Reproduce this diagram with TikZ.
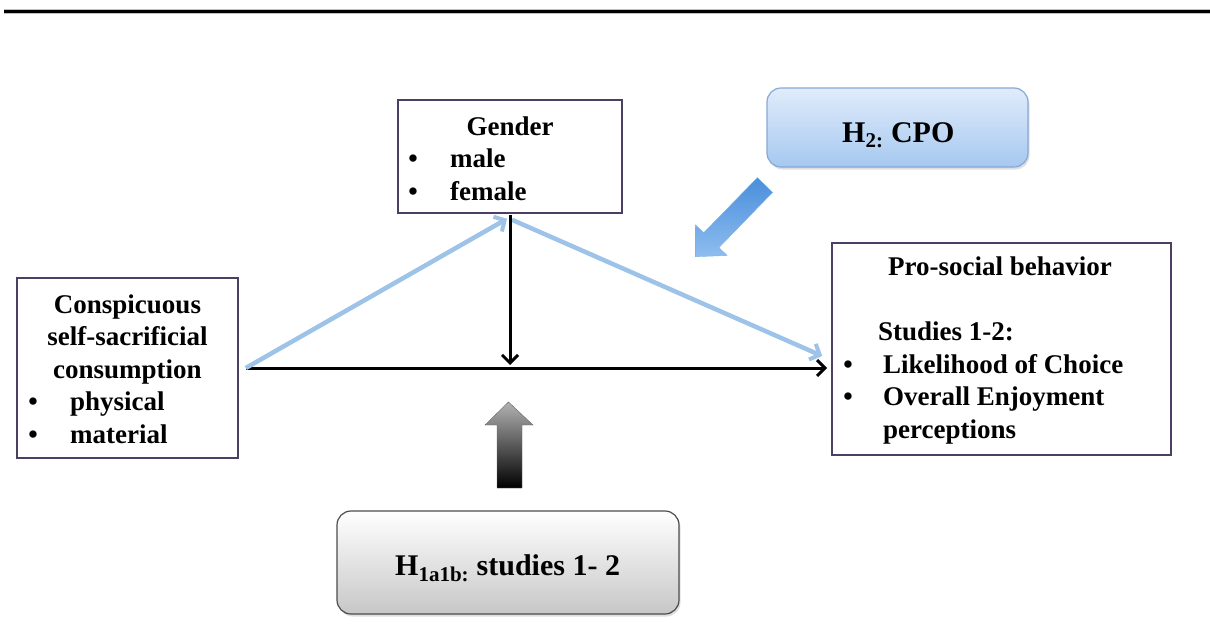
\documentclass[tikz,border=0pt]{standalone}
\usepackage{fontspec}
\setmainfont{Liberation Serif}
\usetikzlibrary{arrows.meta,shadows}
\definecolor{boxborder}{HTML}{4B3F63}
\definecolor{lineblue}{HTML}{9DC3E8}
\definecolor{htop}{HTML}{E0ECFB}
\definecolor{hbot}{HTML}{A6C8F0}
\definecolor{hborder}{HTML}{86A9D6}
\definecolor{arrdark}{HTML}{4A8EDB}
\definecolor{arrlight}{HTML}{8EBDF0}
\begin{document}
\begin{tikzpicture}[x=1pt,y=-1pt,
  box/.style={draw=boxborder, line width=1.6pt, fill=white, inner sep=0pt},
  txt/.style={font=\fontsize{27}{33}\selectfont\bfseries, inner sep=0pt},
  bigtxt/.style={font=\fontsize{30}{36}\selectfont\bfseries, inner sep=0pt},
  blk/.style={line width=3pt, -{Straight Barb[length=8pt,width=16pt,line width=3pt]}},
  blu/.style={draw=lineblue, line width=4.5pt, -{Straight Barb[length=8pt,width=17pt,line width=4pt]}},
  hyp/.style={rounded corners=14pt, line width=1.2pt, inner sep=0pt,
    drop shadow={opacity=0.25, shadow xshift=1.5pt, shadow yshift=-2.5pt}}
]
\useasboundingbox (0,0) rectangle (1210,632);
% top rule
\draw[line width=4.5pt, black!25] (4,11.5) -- (1210,11.5);
\draw[line width=3pt, black] (4,11) -- (1210,11);

% boxes
\node[box, minimum width=221pt, minimum height=180pt] (cons) at (127.5,368) {};
\node[box, minimum width=224pt, minimum height=113pt] (gender) at (510,156.5) {};
\node[box, minimum width=339pt, minimum height=212pt] (pro) at (1001.5,349) {};
\node[hyp, draw=hborder, top color=htop, bottom color=hbot, minimum width=261pt, minimum height=79pt] (h2) at (897.5,127.5) {};
\node[hyp, draw=black!70, top color=white, bottom color=black!22, minimum width=342pt, minimum height=103pt] (h1) at (508,562.5) {};

% texts: gender
\node[txt, anchor=base] (gt) at (510,135) {Gender};
\node[txt, anchor=base] (gb1) at (413,167) {\textbullet};
\node[txt, anchor=base west] (gm) at (450,167) {male};
\node[txt, anchor=base] (gb2) at (413,200) {\textbullet};
\node[txt, anchor=base west] (gf) at (450,200) {female};

% texts: conspicuous
\node[txt, anchor=base] (c1) at (127.5,313) {Conspicuous};
\node[txt, anchor=base] (c2) at (127.5,345) {self-sacrificial};
\node[txt, anchor=base] (c3) at (127.5,378) {consumption};
\node[txt, anchor=base] (cb1) at (33,410) {\textbullet};
\node[txt, anchor=base west] (c4) at (70,410) {physical};
\node[txt, anchor=base] (cb2) at (33,443) {\textbullet};
\node[txt, anchor=base west] (c5) at (70,443) {material};

% texts: pro-social
\node[txt, anchor=base] (p1) at (1000,275) {Pro-social behavior};
\node[txt, anchor=base west] (p2) at (878,340) {Studies 1-2:};
\node[txt, anchor=base] (pb1) at (848,373) {\textbullet};
\node[txt, anchor=base west] (p3) at (883,373) {Likelihood of Choice};
\node[txt, anchor=base] (pb2) at (848,405) {\textbullet};
\node[txt, anchor=base west] (p4) at (883,405) {Overall Enjoyment};
\node[txt, anchor=base west] (p5) at (883,438) {perceptions};

% hypothesis texts
\node[bigtxt, anchor=base west] (h2t) at (842,142) {H\textsubscript{2:} CPO};
\node[bigtxt, anchor=base west] (h1t) at (395,575) {H\textsubscript{1a1b:} studies 1- 2};

% connectors
\coordinate (start) at ([xshift=7pt]cons.east);
\draw[blk] (start) -- ([xshift=-4pt]start -| pro.west);
\draw[blu] (start) -- ([xshift=-3pt,yshift=-5pt]gender.south);
\draw[blu] ([xshift=2pt,yshift=-6pt]gender.south) -- ([xshift=-9pt,yshift=-7pt]pro.west);
\draw[blk] ([yshift=-1pt]gender.south) -- ([yshift=3pt]gender.south |- start);

% blue block arrow (H2 -> paths)
\path[top color=arrdark, bottom color=arrlight, draw=arrdark!70, line width=0.4pt]
  (772.6,192.4) -- (718.9,247.6) -- (727.1,255.5) -- (695.3,256.7)
  -- (695.5,224.9) -- (703.7,232.8) -- (757.4,177.6) -- cycle;

% gray block arrow (H1 -> main path)
\path[top color=black!30, bottom color=black, draw=black!60, line width=0.4pt]
  (497,488) -- (522,488) -- (522,425) -- (533,425) -- (508.5,402)
  -- (485,425) -- (497,425) -- cycle;
\end{tikzpicture}
\end{document}
